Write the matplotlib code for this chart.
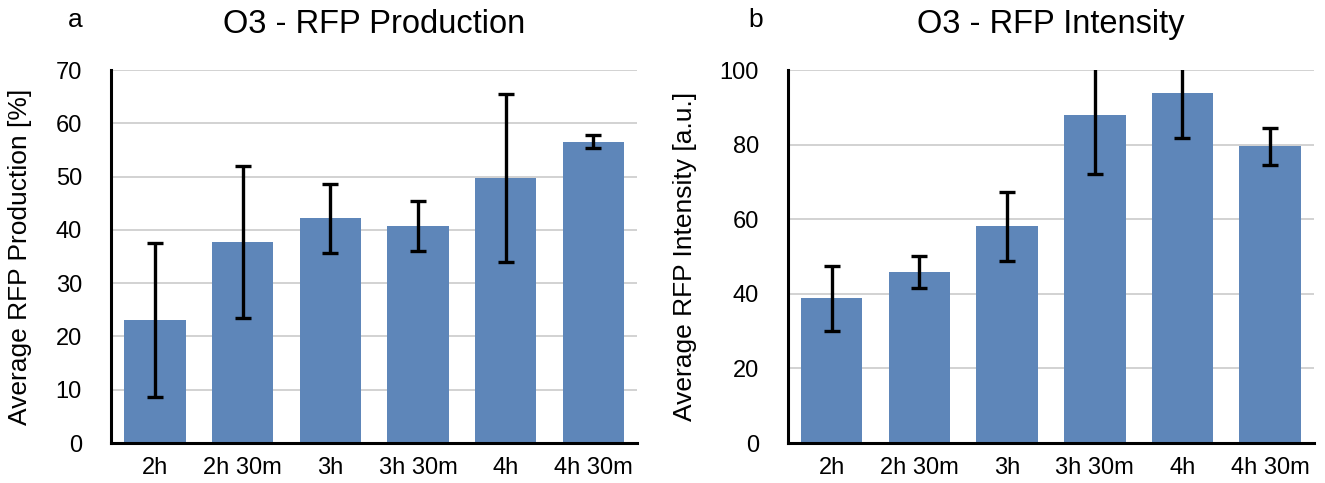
import numpy as np
import matplotlib
matplotlib.use('Agg')
import matplotlib.pyplot as plt

plt.rcParams['font.family'] = ['Liberation Sans', 'DejaVu Sans']

# Time points and measured means / standard deviations
time_labels = ['2h', '2h 30m', '3h', '3h 30m', '4h', '4h 30m']

production_mean = [23.1, 37.7, 42.2, 40.7, 49.7, 56.6]
production_err = [14.5, 14.3, 6.5, 4.65, 15.75, 1.3]

intensity_mean = [38.8, 45.8, 58.1, 88.1, 93.8, 79.6]
intensity_err = [8.8, 4.3, 9.3, 16.0, 11.9, 5.0]

BAR_COLOR = '#5e86b9'


def bar_panel(ax, means, errs, title, ylabel, ymax, step, letter, label_x):
    x = np.arange(len(time_labels))
    ax.bar(x, means, width=0.7, color=BAR_COLOR, zorder=2)
    ax.errorbar(x, means, yerr=errs, fmt='none', ecolor='black',
                elinewidth=2.4, capsize=6, capthick=2.4, zorder=3)

    ax.set_xlim(-0.5, len(time_labels) - 0.5)
    ax.set_ylim(0, ymax)
    ax.set_yticks(np.arange(0, ymax + 1, step))
    ax.set_xticks(x)
    ax.set_xticklabels(time_labels)
    ax.tick_params(axis='both', length=0, labelsize=17)
    ax.tick_params(axis='y', pad=21)
    ax.tick_params(axis='x', pad=10)

    ax.yaxis.grid(True, color='#c6c6c6', linewidth=1.1, zorder=0)
    ax.set_axisbelow(True)
    for side in ('top', 'right'):
        ax.spines[side].set_visible(False)
    for side in ('left', 'bottom'):
        ax.spines[side].set_linewidth(2.2)
        ax.spines[side].set_color('black')

    ax.set_ylabel(ylabel, fontsize=19)
    ax.yaxis.set_label_coords(label_x, 0.5)
    ax.set_title(title, fontsize=23.5, pad=27)
    ax.text(letter[0], letter[1], letter[2], transform=ax.transAxes,
            fontsize=19, ha='center', va='center')


fig = plt.figure(figsize=(13.25, 4.83), dpi=100)
ax_prod = fig.add_axes([0.0838, 0.0828, 0.397, 0.772])
ax_int = fig.add_axes([0.5947, 0.0828, 0.397, 0.772])

bar_panel(ax_prod, production_mean, production_err,
          'O3 - RFP Production', 'Average RFP Production [%]',
          70, 10, (-0.068, 1.135, 'a'), -0.150)
bar_panel(ax_int, intensity_mean, intensity_err,
          'O3 - RFP Intensity', 'Average RFP Intensity [a.u.]',
          100, 20, (-0.062, 1.135, 'b'), -0.173)

fig.savefig('out.png', dpi=100)
